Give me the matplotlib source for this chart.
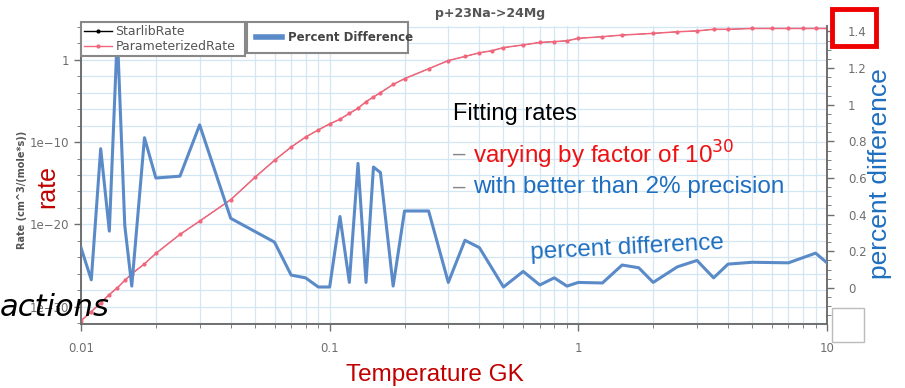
# Recreate: p+23Na->24Mg rate comparison slide.
import matplotlib
matplotlib.use("Agg")
import matplotlib.pyplot as plt
from matplotlib.ticker import FixedLocator, NullFormatter, MultipleLocator
from matplotlib.patches import Rectangle
from matplotlib.lines import Line2D

# Data.
temp_rate = [0.01, 0.011, 0.012, 0.013, 0.014, 0.015, 0.016, 0.018, 0.02, 0.025, 0.03,
             0.04, 0.05, 0.06, 0.07, 0.08, 0.09, 0.1, 0.11, 0.12, 0.13, 0.14, 0.15,
             0.16, 0.18, 0.2, 0.25, 0.3, 0.35, 0.4, 0.45, 0.5, 0.6, 0.7, 0.8, 0.9, 1,
             1.25, 1.5, 2, 2.5, 3, 3.5, 4, 5, 6, 7, 8, 9, 10]
param_rate = [2e-32, 2.5e-31, 3e-30, 3e-29, 2e-28, 1.6e-27, 1e-26, 1.6e-25, 3e-24, 6e-22,
              2.5e-20, 1e-17, 5e-15, 6e-13, 2.5e-11, 4e-10, 3e-09, 1.6e-08, 6e-08, 3e-07,
              1.3e-06, 8e-06, 3e-05, 1e-04, 1e-03, 5e-03, 8e-02, 0.8, 2.5, 7, 12.6, 30,
              63, 126, 160, 200, 400, 630, 1000, 1600, 2500, 3200, 5000, 5000, 6300,
              6300, 6300, 6300, 6300, 6300]
starlib_rate = param_rate  # the two curves lie on top of each other

temp_diff = [0.01, 0.011, 0.012, 0.013, 0.014, 0.015, 0.016, 0.018, 0.02, 0.025, 0.03,
             0.04, 0.06, 0.07, 0.08, 0.09, 0.1, 0.11, 0.12, 0.13, 0.14, 0.15, 0.16,
             0.18, 0.2, 0.25, 0.3, 0.35, 0.4, 0.5, 0.6, 0.7, 0.8, 0.9, 1, 1.25, 1.5,
             1.75, 2, 2.5, 3, 3.5, 4, 5, 7, 9, 10]
pct_diff = [0.22, 0.044, 0.76, 0.31, 1.39, 0.34, 0.01, 0.82, 0.60, 0.61, 0.89,
            0.38, 0.25, 0.07, 0.055, 0.005, 0.005, 0.39, 0.03, 0.68, 0.03, 0.66, 0.63,
            0.01, 0.42, 0.42, 0.03, 0.26, 0.22, 0.005, 0.09, 0.016, 0.055, 0.01, 0.03,
            0.027, 0.125, 0.11, 0.03, 0.115, 0.15, 0.055, 0.13, 0.14, 0.137, 0.19, 0.137]

gray = "#6e6e6e"
grid_c = "#d3e6f3"
pink = "#f2667c"

fig = plt.figure(figsize=(9.05, 3.88), dpi=100)
ax = fig.add_axes([81/905, 1-324/388, (827-81)/905, (324-26)/388])
ax2 = ax.twinx()

ax.set_xscale("log")
ax.set_yscale("log")
ax.set_xlim(0.01, 10)
ax.set_ylim(10**-32.1, 10**4.1)
ax2.set_ylim(-0.197, 1.43)

# grid
ax.yaxis.set_major_locator(FixedLocator([1e-30, 1e-20, 1e-10, 1]))
ax.yaxis.set_minor_locator(FixedLocator([10.0**e for e in range(-32, 5, 2)]))
ax.yaxis.set_minor_formatter(NullFormatter())
ax.set_yticklabels(["1e\u221230", "1e\u221220", "1e\u221210", "1"])
ax.set_xticks([0.01, 0.1, 1, 10])
ax.set_xticklabels(["0.01", "0.1", "1", "10"])
ax.grid(True, which="both", color=grid_c, lw=0.9)
ax.set_axisbelow(True)

ax2.yaxis.set_major_locator(MultipleLocator(0.2))
ax2.yaxis.set_minor_locator(MultipleLocator(0.05))
ax2.set_yticks([0, 0.2, 0.4, 0.6, 0.8, 1.0, 1.2, 1.4])
ax2.set_yticklabels(["0", "0.2", "0.4", "0.6", "0.8", "1", "1.2", "1.4"])

for a in (ax, ax2):
    a.tick_params(colors=gray, labelsize=8.5, width=1, length=5)
    a.tick_params(which="minor", colors=gray, length=3)
    a.spines["top"].set_visible(False)
    for s in ("left", "right", "bottom"):
        a.spines[s].set_color(gray)
        a.spines[s].set_linewidth(1.2)
ax.tick_params(axis="x", pad=8)
ax2.tick_params(axis="y", pad=10)

# curves
ax.plot(temp_rate, starlib_rate, color="black", lw=0.4, zorder=2)
ax.plot(temp_rate, param_rate, color=pink, lw=1.1, marker="o", ms=2, zorder=3)
ax2.plot(temp_diff, pct_diff, color="#5a8bc8", lw=2.2, zorder=4)

# legends
h1 = [Line2D([], [], color="black", lw=1, marker="o", ms=2),
      Line2D([], [], color=pink, lw=1, marker="o", ms=2)]
leg1 = fig.legend(h1, ["StarlibRate", "ParameterizedRate"], loc="upper left",
                  bbox_to_anchor=(81/905, 1-26/388, 164/905, 0.01), mode="expand",
                  fancybox=False, edgecolor="#888888", fontsize=9, handlelength=2.2,
                  borderpad=0.25, labelspacing=0.15, handletextpad=0.3, borderaxespad=0,
                  labelcolor="#555555", framealpha=1)
leg1.get_frame().set_linewidth(1.5)
h2 = [Line2D([], [], color="#5a8bc8", lw=4)]
leg2 = fig.legend(h2, ["Percent Difference"], loc="upper left",
                  bbox_to_anchor=(247/905, 1-26/388, 161/905, 0.01), mode="expand",
                  fancybox=False, edgecolor="#888888", handlelength=2.2,
                  borderpad=0.75, handletextpad=0.5, borderaxespad=0,
                  prop={"weight": "bold", "size": 8.5}, labelcolor="#444444",
                  framealpha=1)
leg2.get_frame().set_linewidth(1.5)

# titles / labels
fig.text(490/905, 1-13/388, "p+23Na->24Mg", ha="center", va="center",
         fontsize=9, weight="bold", color="#555555")
fig.text(22/905, 1-190/388, "Rate (cm^3/(mole*s))", rotation=90, ha="center",
         va="center", fontsize=7, weight="bold", color="#555555")
fig.text(47/905, 1-186/388, "rate", rotation=90, ha="center", va="center",
         fontsize=18, color="#c00000", family="Liberation Sans")
fig.text(880/905, 1-174/388, "percent difference", rotation=90, ha="center",
         va="center", fontsize=19, color="#1f6fc0", family="Liberation Sans")
fig.text(435/905, 1-375/388, "Temperature GK", ha="center", va="center",
         fontsize=17.5, color="#c00000", family="Liberation Sans")

# slide overlay texts
fig.text(453/905, 1-114/388, "Fitting rates", ha="left", va="center",
         fontsize=17, color="black", family="Liberation Sans")
fig.text(453/905, 1-155/388, "\u2013 ", ha="left", va="center",
         fontsize=16, color="#888888", family="Liberation Sans")
fig.text(473/905, 1-155/388, "varying by factor of 10$^{30}$", ha="left",
         va="center", fontsize=17.5, color="#ee1111", family="Liberation Sans")
fig.text(453/905, 1-187/388, "\u2013 ", ha="left", va="center",
         fontsize=16, color="#888888", family="Liberation Sans")
fig.text(473/905, 1-187/388, "with better than 2% precision", ha="left",
         va="center", fontsize=17.5, color="#1f6fc0", family="Liberation Sans")
fig.text(530/905, 1-248/388, "percent difference", ha="left", va="center",
         fontsize=17.5, color="#1f6fc0", family="Liberation Sans", rotation=3)
fig.text(0, 1-308/388, "actions", ha="left", va="center", fontsize=22,
         color="black", style="italic", family="DejaVu Sans")

# boxes
fig.patches.append(Rectangle((832/905, 1-342/388), 32/905, 34/388,
                             transform=fig.transFigure, fill=False,
                             edgecolor="#bbbbbb", lw=1))
fig.patches.append(Rectangle((832/905, 1-46/388), 44/905, 37/388,
                             transform=fig.transFigure, fill=False,
                             edgecolor="#ee0000", lw=3.5))

fig.savefig("out.png", dpi=100)
